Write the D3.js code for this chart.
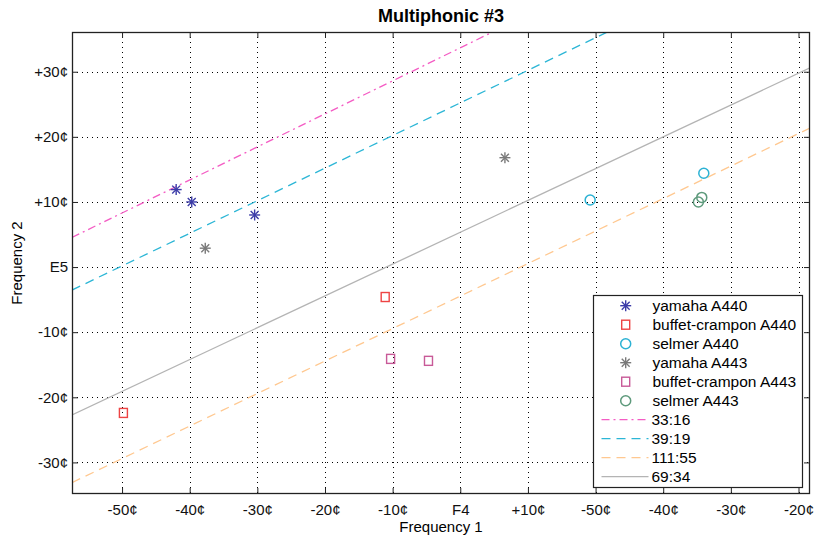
<!DOCTYPE html>
<html>
<head>
<meta charset="utf-8">
<script src="https://cdn.jsdelivr.net/npm/d3@7"></script>
<style>
  body { margin: 0; background: #fff; }
  text { font-family: "Liberation Sans", Arial, Helvetica, sans-serif; }
</style>
</head>
<body>
<div id="chart"></div>
<script>
//~~~~~~~~~~~~~~~~~~DATA
// x units: ticks every 10, labels relative to nearest note
let xTicks = [-50, -40, -30, -20, -10, 0, 10, 20, 30, 40, 50];
let xTickLabels = ['-50¢', '-40¢', '-30¢', '-20¢', '-10¢', 'F4', '+10¢', '-50¢', '-40¢', '-30¢', '-20¢'];
let yTicks = [-30, -20, -10, 0, 10, 20, 30];
let yTickLabels = ['-30¢', '-20¢', '-10¢', 'E5', '+10¢', '+20¢', '+30¢'];

let yamaha440 = [[-42.0, 11.9], [-39.7, 10.0], [-30.4, 8.0]];
let buffet440 = [[-11.1, -4.6], [-49.8, -22.4]];
let selmer440 = [[19.2, 10.3], [36.0, 14.4]];
let yamaha443 = [[-37.7, 2.9], [6.6, 16.8]];
let buffet443 = [[-10.3, -14.1], [-4.7, -14.4]];
let selmer443 = [[35.2, 10.0], [35.7, 10.7]];

// ratio lines, [x0, y0, x1, y1]
let line33_16 = [-57.4, 4.55, 51.7, 59.9];
let line39_19 = [-57.4, -3.53, 51.7, 51.1];
let line111_55 = [-57.4, -33.1, 51.7, 21.35];
let line69_34 = [-57.4, -22.7, 51.7, 30.6];

//~~~~~~~~~~~~~~~~~~VARIABLES
let width = 814;
let height = 539;
let mLeft = 72, mRight = 810, mTop = 32, mBottom = 494;
let fontSize = 15;

let x = d3.scaleLinear().domain([-57.4, 51.7]).range([mLeft, mRight]);
let y = d3.scaleLinear().domain([-34.85, 36.1]).range([mBottom, mTop]);

let svg = d3.select('#chart')
  .append('svg')
  .attr('width', width)
  .attr('height', height);

svg.append('defs').append('clipPath').attr('id', 'clip')
  .append('rect')
  .attr('x', mLeft).attr('y', mTop)
  .attr('width', mRight - mLeft).attr('height', mBottom - mTop);

//~~~~~~~~~~~~~~~~~~GRID
let grid = svg.append('g');
grid.selectAll('.vgrid')
  .data(xTicks)
  .enter()
  .append('line')
  .attr('x1', d => Math.round(x(d)) + 0.5)
  .attr('x2', d => Math.round(x(d)) + 0.5)
  .attr('y1', mTop).attr('y2', mBottom)
  .attr('stroke', '#000')
  .attr('stroke-dasharray', '1,4');
grid.selectAll('.hgrid')
  .data(yTicks)
  .enter()
  .append('line')
  .attr('y1', d => Math.round(y(d)) + 0.5)
  .attr('y2', d => Math.round(y(d)) + 0.5)
  .attr('x1', mLeft).attr('x2', mRight)
  .attr('stroke', '#000')
  .attr('stroke-dasharray', '1,4');

//~~~~~~~~~~~~~~~~~~AXES (ticks point inward)
let fmtX = (d, i) => xTickLabels[i];
let fmtY = (d, i) => yTickLabels[i];

let axisBottom = svg.append('g')
  .attr('transform', 'translate(0,' + mBottom + ')')
  .call(d3.axisBottom(x).tickValues(xTicks).tickFormat(fmtX).tickSizeInner(-6).tickSizeOuter(0).tickPadding(10));
let axisTop = svg.append('g')
  .attr('transform', 'translate(0,' + mTop + ')')
  .call(d3.axisTop(x).tickValues(xTicks).tickFormat('').tickSizeInner(-6).tickSizeOuter(0));
let axisLeft = svg.append('g')
  .attr('transform', 'translate(' + mLeft + ',0)')
  .call(d3.axisLeft(y).tickValues(yTicks).tickFormat(fmtY).tickSizeInner(-6).tickSizeOuter(0).tickPadding(4));
let axisRight = svg.append('g')
  .attr('transform', 'translate(' + mRight + ',0)')
  .call(d3.axisRight(y).tickValues(yTicks).tickFormat('').tickSizeInner(-6).tickSizeOuter(0));

[axisBottom, axisTop, axisLeft, axisRight].forEach(function(a) {
  a.selectAll('.domain').remove();
  a.selectAll('line').attr('stroke', '#222');
  a.selectAll('text').attr('font-size', fontSize).attr('fill', '#111')
    .style('font-family', '"Liberation Sans", Arial, sans-serif');
});

//~~~~~~~~~~~~~~~~~~RATIO LINES
let plot = svg.append('g').attr('clip-path', 'url(#clip)');

let ratioLines = [
  { label: '33:16', d: line33_16, color: '#f45cc4', dash: '8,4,2,4' },
  { label: '39:19', d: line39_19, color: '#2cb6d6', dash: '9,6' },
  { label: '111:55', d: line111_55, color: '#ffc890', dash: '9,6' },
  { label: '69:34', d: line69_34, color: '#b4b4b4', dash: null }
];

plot.selectAll('.ratio')
  .data(ratioLines)
  .enter()
  .append('line')
  .attr('x1', d => x(d.d[0])).attr('y1', d => y(d.d[1]))
  .attr('x2', d => x(d.d[2])).attr('y2', d => y(d.d[3]))
  .attr('stroke', d => d.color)
  .attr('stroke-width', 1.3)
  .attr('stroke-dasharray', d => d.dash);

//~~~~~~~~~~~~~~~~~~MARKERS
function star(g, cx, cy, color) {
  let r = 5.5;
  let s = g.append('g').attr('transform', 'translate(' + cx + ',' + cy + ')')
    .attr('stroke', color).attr('stroke-width', 1.4).attr('fill', 'none');
  s.append('line').attr('x1', -r).attr('x2', r).attr('y1', 0).attr('y2', 0);
  s.append('line').attr('x1', 0).attr('x2', 0).attr('y1', -r).attr('y2', r);
  s.append('line').attr('x1', -r * 0.72).attr('x2', r * 0.72).attr('y1', -r * 0.72).attr('y2', r * 0.72);
  s.append('line').attr('x1', -r * 0.72).attr('x2', r * 0.72).attr('y1', r * 0.72).attr('y2', -r * 0.72);
}
function square(g, cx, cy, color) {
  g.append('rect')
    .attr('x', cx - 4).attr('y', cy - 4.5)
    .attr('width', 8).attr('height', 9)
    .attr('fill', 'none').attr('stroke', color).attr('stroke-width', 1.4);
}
function circle(g, cx, cy, color) {
  g.append('circle')
    .attr('cx', cx).attr('cy', cy).attr('r', 5)
    .attr('fill', 'none').attr('stroke', color).attr('stroke-width', 1.5);
}

let series = [
  { label: 'yamaha A440', data: yamaha440, color: '#3c3ca8', shape: star },
  { label: 'buffet-crampon A440', data: buffet440, color: '#ee4444', shape: square },
  { label: 'selmer A440', data: selmer440, color: '#2cb2d4', shape: circle },
  { label: 'yamaha A443', data: yamaha443, color: '#7a7a7a', shape: star },
  { label: 'buffet-crampon A443', data: buffet443, color: '#c85a98', shape: square },
  { label: 'selmer A443', data: selmer443, color: '#5e9a7c', shape: circle }
];

series.forEach(function(s) {
  s.data.forEach(function(p) {
    s.shape(plot, x(p[0]), y(p[1]), s.color);
  });
});

//~~~~~~~~~~~~~~~~~~FRAME
svg.append('rect')
  .attr('x', mLeft + 0.5).attr('y', mTop + 0.5)
  .attr('width', mRight - mLeft - 1).attr('height', mBottom - mTop - 1)
  .attr('fill', 'none').attr('stroke', '#222').attr('stroke-width', 1.3);

//~~~~~~~~~~~~~~~~~~TITLES
svg.append('text')
  .attr('x', 441).attr('y', 22)
  .attr('text-anchor', 'middle')
  .attr('font-size', 18).attr('font-weight', 'bold')
  .text('Multiphonic #3');

svg.append('text')
  .attr('x', 441).attr('y', 532)
  .attr('text-anchor', 'middle')
  .attr('font-size', fontSize)
  .text('Frequency 1');

svg.append('text')
  .attr('transform', 'translate(22,263) rotate(-90)')
  .attr('text-anchor', 'middle')
  .attr('font-size', fontSize)
  .text('Frequency 2');

//~~~~~~~~~~~~~~~~~~LEGEND
let legendX = 593.5, legendY = 295.5, legendW = 209, legendH = 192;
let rowH = 19, firstRow = 305.7;

let legend = svg.append('g');
legend.append('rect')
  .attr('x', legendX).attr('y', legendY)
  .attr('width', legendW).attr('height', legendH)
  .attr('fill', '#fff').attr('stroke', '#222').attr('stroke-width', 1.2);

series.forEach(function(s, i) {
  let cy = firstRow + i * rowH;
  s.shape(legend, 625.7, cy, s.color);
  legend.append('text')
    .attr('x', 652.5).attr('y', cy + 5.5)
    .attr('font-size', 15.5)
    .text(s.label);
});

ratioLines.forEach(function(l, i) {
  let cy = firstRow + (series.length + i) * rowH;
  legend.append('line')
    .attr('x1', 601.5).attr('x2', 648.5)
    .attr('y1', cy).attr('y2', cy)
    .attr('stroke', l.color).attr('stroke-width', 1.3)
    .attr('stroke-dasharray', l.dash);
  legend.append('text')
    .attr('x', 651.5).attr('y', cy + 5.5)
    .attr('font-size', 15.5)
    .text(l.label);
});
</script>
</body>
</html>
